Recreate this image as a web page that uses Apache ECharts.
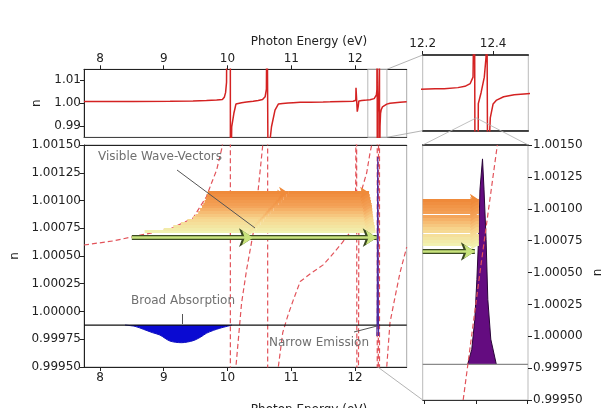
<!DOCTYPE html>
<html><head><meta charset="utf-8">
<script src="https://cdn.jsdelivr.net/npm/echarts@6/dist/echarts.min.js"></script>
<style>html,body{margin:0;padding:0;background:#fff}#c{width:605px;height:408px}</style>
</head><body><div id="c"></div>
<script>
// ---------------- data ----------------
const energyTicks = [8, 9, 10, 11, 12];
const topNTicks = [0.99, 1.00, 1.01];
const mainNTicks = [0.9995, 0.99975, 1.0, 1.00025, 1.0005, 1.00075, 1.001, 1.00125, 1.0015];
const insetTicks = [12.2, 12.4];
const zoomTicks = [12.30, 12.35, 12.40];

// refractive index n(E)
const dispE = [7.75, 8.20, 8.52, 9.10, 9.46, 9.67, 9.75, 9.83, 9.88, 9.92, 9.95, 9.97, 9.985, 9.993, 10.044, 10.046,
  10.066, 10.10, 10.118, 10.132, 10.221, 10.299, 10.403, 10.481, 10.55, 10.59, 10.61, 10.62, 10.635, 10.64,
  10.66, 10.69, 10.745, 10.797, 10.866, 10.95, 11.03, 11.14, 11.30, 11.50, 11.61, 11.80, 11.97, 12.00, 12.012,
  12.015, 12.035, 12.05, 12.06, 12.105, 12.183, 12.235, 12.261, 12.30, 12.32, 12.335, 12.343, 12.347, 12.349,
  12.357, 12.358, 12.366, 12.375, 12.380, 12.382, 12.385, 12.389, 12.392, 12.40, 12.41, 12.43, 12.46, 12.497,
  12.548, 12.627, 12.705, 12.81];
const dispN = [1.000599, 1.000635, 1.000674, 1.000743, 1.000842, 1.001034, 1.001158, 1.001275, 1.001395, 1.001491, 1.0025, 1.0045, 1.009, 1.05, 1.05, 0.95,
  0.9896, 0.9955, 0.9977, 0.9995, 1.000077, 1.000374, 1.000707, 1.001095, 1.001482, 1.0027, 1.006, 1.05, 1.05, 0.95,
  0.982, 0.9896, 0.9969, 0.9995, 0.99981, 0.99997, 1.0001, 1.00027, 1.00034, 1.00042, 1.00049, 1.00062, 1.00075, 1.00085, 1.0012,
  1.0066, 0.9962, 0.9985, 1.0009, 1.001095, 1.00125, 1.00143, 1.0015, 1.0019, 1.0024, 1.0035, 1.006, 1.05, 0.95,
  0.96, 0.9956, 1.0, 1.006, 1.014, 1.05, 0.95, 0.98, 0.99, 0.9955, 0.997, 0.9983, 0.9991, 0.9995,
  0.9999, 1.00013, 1.00035, 1.00058];

// broad absorption
const absE = [8.393, 8.55, 8.68, 8.82, 8.94, 9.097, 9.28, 9.46, 9.58, 9.67, 9.78, 9.88, 10.07];
const absN = [0.999878, 0.999866, 0.99984, 0.99981, 0.999788, 0.999734, 0.999719, 0.999737, 0.99977, 0.999804, 0.99983, 0.999849, 0.999878];
const absBaseline = 0.999878;

// narrow emission
const emiE = [12.342, 12.346, 12.349, 12.351, 12.353, 12.354, 12.3565, 12.358, 12.360, 12.3617, 12.3646, 12.370];
const emiN = [0.99978, 0.999898, 1.000133, 1.000445, 1.000836, 1.001148, 1.001391, 1.001148, 1.000758, 1.000289, 0.999977, 0.99978];
const emiBaseline = 0.99978;

// dashed curve in the zoomed emission panel
const zoomDashE = [12.3376, 12.354, 12.371];
const zoomDashN = [0.9995, 1.0005, 1.0015];

// wave-vector arrows
const bandN = [1.00072, 1.000745, 1.00077, 1.000795, 1.00082, 1.000845, 1.00087, 1.000895, 1.00092, 1.000945, 1.00097, 1.000995, 1.00102, 1.001045, 1.00107];
const bandStartE = [8.70, 9.00, 9.15, 9.27, 9.37, 9.46, 9.50, 9.54, 9.57, 9.60, 9.62, 9.64, 9.66, 9.675, 9.69];
const bandMidE = [10.42, 10.45, 10.48, 10.52, 10.56, 10.60, 10.64, 10.68, 10.72, 10.76, 10.80, 10.84, 10.88, 10.92, 10.95];
const bandEndE = [12.32, 12.315, 12.31, 12.30, 12.29, 12.285, 12.28, 12.275, 12.27, 12.265, 12.26, 12.25, 12.24, 12.23, 12.22];
const greenN = 1.000665;
const greenE = [8.50, 10.40, 12.34];
const zoomStartE = 12.298;
const zoomTipE = 12.353;
const zoomGreenTipE = 12.349;

// ---------------- layout / style ----------------
const F = 'DejaVu Sans';
const G = {
  top:   {left: 84, top: 69.3, width: 322.7, height: 68},
  main:  {left: 84, top: 145, width: 322.7, height: 222},
  inset: {left: 422.7, top: 55, width: 105.6, height: 75.7},
  zoom:  {left: 422.7, top: 145, width: 105.6, height: 255}
};
const X = {main: [7.75, 12.81], inset: [12.2, 12.5], zoom: [12.298, 12.401]};
const zip = (a, b) => a.map((v, i) => [v, b[i]]);
const lbl = (vals, fmt, extra) => Object.assign({customValues: vals, formatter: fmt, fontFamily: F, fontSize: 12, color: '#222'}, extra || {});
const tck = (vals) => ({show: true, customValues: vals, length: 4, lineStyle: {color: '#222'}});
const lineOnly = (color, w) => ({show: true, onZero: false, lineStyle: {color: color, width: w || 1}});
const off = {show: false};

function mix(a, b, t) { return a.map((v, i) => Math.round(v + (b[i] - v) * t)); }
const stops = [[0, [241, 241, 176]], [0.35, [247, 212, 140]], [0.65, [244, 164, 90]], [1, [239, 138, 58]]];
function bandColor(t) {
  for (let i = 1; i < stops.length; i++) {
    if (t <= stops[i][0]) {
      const s0 = stops[i - 1], s1 = stops[i];
      const c = mix(s0[1], s1[1], (t - s0[0]) / (s1[0] - s0[0]));
      return 'rgb(' + c.join(',') + ')';
    }
  }
  return 'rgb(' + stops[stops.length - 1][1].join(',') + ')';
}

const bandMain = [], bandZoom = [];
bandN.forEach((n, i) => {
  const c = bandColor(i / (bandN.length - 1));
  bandMain.push({coords: [[bandStartE[i], n], [bandMidE[i], n]], lineStyle: {color: c}});
  bandMain.push({coords: [[bandMidE[i], n], [bandEndE[i], n]], lineStyle: {color: c}});
  bandZoom.push({coords: [[zoomStartE, n], [zoomTipE, n]], lineStyle: {color: c}});
});
const greenMain = [
  {coords: [[greenE[0], greenN], [greenE[1], greenN]]},
  {coords: [[greenE[1], greenN], [greenE[2], greenN]]}
];
const greenZoom = [{coords: [[zoomStartE, greenN], [zoomGreenTipE, greenN]]}];

function arrows(xi, yi, data, width, size, color, z) {
  return {type: 'lines', coordinateSystem: 'cartesian2d', xAxisIndex: xi, yAxisIndex: yi, silent: true, z: z,
    symbol: ['none', 'arrow'], symbolSize: [0, size], polyline: false,
    lineStyle: Object.assign({width: width, opacity: 1, curveness: 0}, color ? {color: color} : {}), data: data};
}
function hline(xi, yi, range, y, color, w, z) {
  return {type: 'line', xAxisIndex: xi, yAxisIndex: yi, data: [[range[0], y], [range[1], y]], showSymbol: false, silent: true, z: z,
    lineStyle: {color: color, width: w}};
}

const chart = echarts.init(document.getElementById('c'));
const option = {
  animation: false,
  backgroundColor: '#fff',
  grid: [
    Object.assign({show: true, borderColor: '#aaa', borderWidth: 1, containLabel: false}, G.top),
    Object.assign({show: true, borderColor: '#aaa', borderWidth: 1, containLabel: false}, G.main),
    Object.assign({show: true, borderColor: '#bbb', borderWidth: 1, containLabel: false}, G.inset),
    Object.assign({show: true, borderColor: '#bbb', borderWidth: 1, containLabel: false}, G.zoom)
  ],
  xAxis: [
    {gridIndex: 0, type: 'value', position: 'top', min: X.main[0], max: X.main[1], axisLine: lineOnly('#222'), axisTick: tck(energyTicks),
      axisLabel: lbl(energyTicks, v => String(v), {margin: 4}), splitLine: off},
    {gridIndex: 0, type: 'value', position: 'bottom', min: X.main[0], max: X.main[1], axisLine: lineOnly('#444'), axisTick: off, axisLabel: off, splitLine: off},
    {gridIndex: 1, type: 'value', position: 'bottom', min: X.main[0], max: X.main[1], axisLine: lineOnly('#222'), axisTick: tck(energyTicks),
      axisLabel: lbl(energyTicks, v => String(v), {margin: 5}), splitLine: off},
    {gridIndex: 1, type: 'value', position: 'top', min: X.main[0], max: X.main[1], axisLine: lineOnly('#222'), axisTick: off, axisLabel: off, splitLine: off},
    {gridIndex: 2, type: 'value', position: 'top', min: X.inset[0], max: X.inset[1], axisLine: lineOnly('#111', 1.5), axisTick: tck(insetTicks),
      axisLabel: lbl(insetTicks, v => v.toFixed(1), {margin: 5}), splitLine: off},
    {gridIndex: 2, type: 'value', position: 'bottom', min: X.inset[0], max: X.inset[1], axisLine: lineOnly('#111', 1.5), axisTick: off, axisLabel: off, splitLine: off},
    {gridIndex: 3, type: 'value', position: 'bottom', min: X.zoom[0], max: X.zoom[1], axisLine: lineOnly('#333'), axisTick: tck(zoomTicks),
      axisLabel: off, splitLine: off},
    {gridIndex: 3, type: 'value', position: 'top', min: X.zoom[0], max: X.zoom[1], axisLine: lineOnly('#111', 1.5), axisTick: off, axisLabel: off, splitLine: off}
  ],
  yAxis: [
    {gridIndex: 0, type: 'value', position: 'left', min: 0.985, max: 1.0147, axisLine: lineOnly('#222'), axisTick: tck(topNTicks),
      axisLabel: lbl(topNTicks, v => v.toFixed(2), {margin: 3}), splitLine: off,
      name: 'n', nameLocation: 'middle', nameGap: 41, nameRotate: 90, nameTextStyle: {fontFamily: F, fontSize: 12, color: '#222'}},
    {gridIndex: 1, type: 'value', position: 'left', min: 0.9995, max: 1.0015, axisLine: lineOnly('#222'), axisTick: tck(mainNTicks),
      axisLabel: lbl(mainNTicks, v => v.toFixed(5), {margin: 3}), splitLine: off,
      name: 'n', nameLocation: 'middle', nameGap: 61, nameRotate: 90, nameTextStyle: {fontFamily: F, fontSize: 12, color: '#222'}},
    {gridIndex: 2, type: 'value', min: 0.985, max: 1.0147, show: false},
    {gridIndex: 3, type: 'value', position: 'right', min: 0.9995, max: 1.0015, axisLine: off, axisTick: tck(mainNTicks),
      axisLabel: lbl(mainNTicks, v => v.toFixed(5), {margin: 5}), splitLine: off,
      name: 'n', nameLocation: 'middle', nameGap: 64, nameRotate: 90, nameTextStyle: {fontFamily: F, fontSize: 12, color: '#222'}}
  ],
  series: [
    {type: 'line', xAxisIndex: 0, yAxisIndex: 0, data: zip(dispE, dispN), showSymbol: false, clip: true, z: 3,
      lineStyle: {color: '#d42222', width: 1.5},
      markArea: {silent: true, itemStyle: {color: 'rgba(0,0,0,0)', borderColor: '#b8b8b8', borderWidth: 1},
        data: [[{xAxis: X.inset[0]}, {xAxis: X.inset[1]}]]}},
    {type: 'line', xAxisIndex: 2, yAxisIndex: 1, data: zip(dispE, dispN), showSymbol: false, clip: true, z: 2,
      lineStyle: {color: '#e2535a', width: 1.2, type: [5, 3]}},
    {type: 'line', xAxisIndex: 4, yAxisIndex: 2, data: zip(dispE, dispN), showSymbol: false, clip: true, z: 3,
      lineStyle: {color: '#d42222', width: 1.5}},
    hline(2, 1, X.main, absBaseline, '#111', 1.2, 4),
    hline(6, 3, X.zoom, emiBaseline, '#8a8a8a', 1.2, 4),
    {type: 'line', xAxisIndex: 2, yAxisIndex: 1, data: zip(absE, absN), showSymbol: false, smooth: 0.3, z: 3,
      lineStyle: {color: '#1010c0', width: 1}, areaStyle: {color: '#0a0ad2', opacity: 1, origin: absBaseline}},
    {type: 'line', xAxisIndex: 2, yAxisIndex: 1, data: zip(emiE, emiN), showSymbol: false, z: 7,
      lineStyle: {color: '#4a2aa0', width: 1.2}, areaStyle: {color: '#4a2aa0', opacity: 1, origin: absBaseline}},
    {type: 'line', xAxisIndex: 6, yAxisIndex: 3, data: zip(emiE, emiN), showSymbol: false, z: 3,
      lineStyle: {color: '#2a0538', width: 1}, areaStyle: {color: '#640c80', opacity: 1, origin: emiBaseline}},
    {type: 'line', xAxisIndex: 6, yAxisIndex: 3, data: zip(zoomDashE, zoomDashN), showSymbol: false, clip: true, z: 8,
      lineStyle: {color: '#e2535a', width: 1.2, type: [5, 3]}},
    arrows(2, 1, bandMain, 3, 9, null, 5),
    arrows(2, 1, greenMain, 5, 14, '#3b4a22', 6),
    arrows(2, 1, greenMain, 2.5, 11, '#c8e37c', 6),
    arrows(6, 3, bandZoom, 3, 9, null, 5),
    arrows(6, 3, greenZoom, 5, 14, '#3b4a22', 6),
    arrows(6, 3, greenZoom, 2.5, 11, '#c8e37c', 6)
  ],
  graphic: []
};

chart.setOption(option);

// annotations and inset connectors
const txt = (t, x, y, color) => ({type: 'text', x: x, y: y, z: 100, silent: true,
  style: {text: t, fill: color, font: '12px "DejaVu Sans"', textAlign: 'center', textVerticalAlign: 'middle', align: 'center', verticalAlign: 'middle'}});
const seg = (x1, y1, x2, y2, color, w) => ({type: 'line', z: 100, silent: true, shape: {x1: x1, y1: y1, x2: x2, y2: y2},
  style: {stroke: color, lineWidth: w || 1}});
const px = (g, p) => chart.convertToPixel({gridIndex: g}, p);

const rTop = px(0, [X.inset[1], 1.0147]), rBot = px(0, [X.inset[1], 0.985]);
const iTL = [G.inset.left, G.inset.top], iBL = [G.inset.left, G.inset.top + G.inset.height];
const zTL = [G.zoom.left, G.zoom.top], zTR = [G.zoom.left + G.zoom.width, G.zoom.top], zBL = [G.zoom.left, G.zoom.top + G.zoom.height];
const apex = px(2, [12.352, 0.9900]);
const mainEmiBot = px(1, [12.3565, 0.9995]);

chart.setOption({graphic: [
  txt('Photon Energy (eV)', 309, 41.5, '#222'),
  txt('Photon Energy (eV)', 309, 410, '#222'),
  txt('Visible Wave-Vectors', 160, 157, '#707070'),
  seg(177, 170, 255, 228, '#555', 1),
  txt('Broad Absorption', 183, 301, '#707070'),
  seg(182.5, 314, 182.5, 324, '#555', 1),
  txt('Narrow Emission', 319, 343, '#707070'),
  seg(354, 332, 377, 326, '#555', 1),
  seg(rTop[0], rTop[1], iTL[0], iTL[1], '#a0a0a0', 0.8),
  seg(rBot[0], rBot[1], iBL[0], iBL[1], '#a0a0a0', 0.8),
  seg(apex[0], apex[1], zTL[0], zTL[1], '#b0b0b0', 0.8),
  seg(apex[0], apex[1], zTR[0], zTR[1], '#b0b0b0', 0.8),
  seg(mainEmiBot[0], mainEmiBot[1], zBL[0], zBL[1], '#a0a0a0', 0.8)
]});
</script>
</body></html>
